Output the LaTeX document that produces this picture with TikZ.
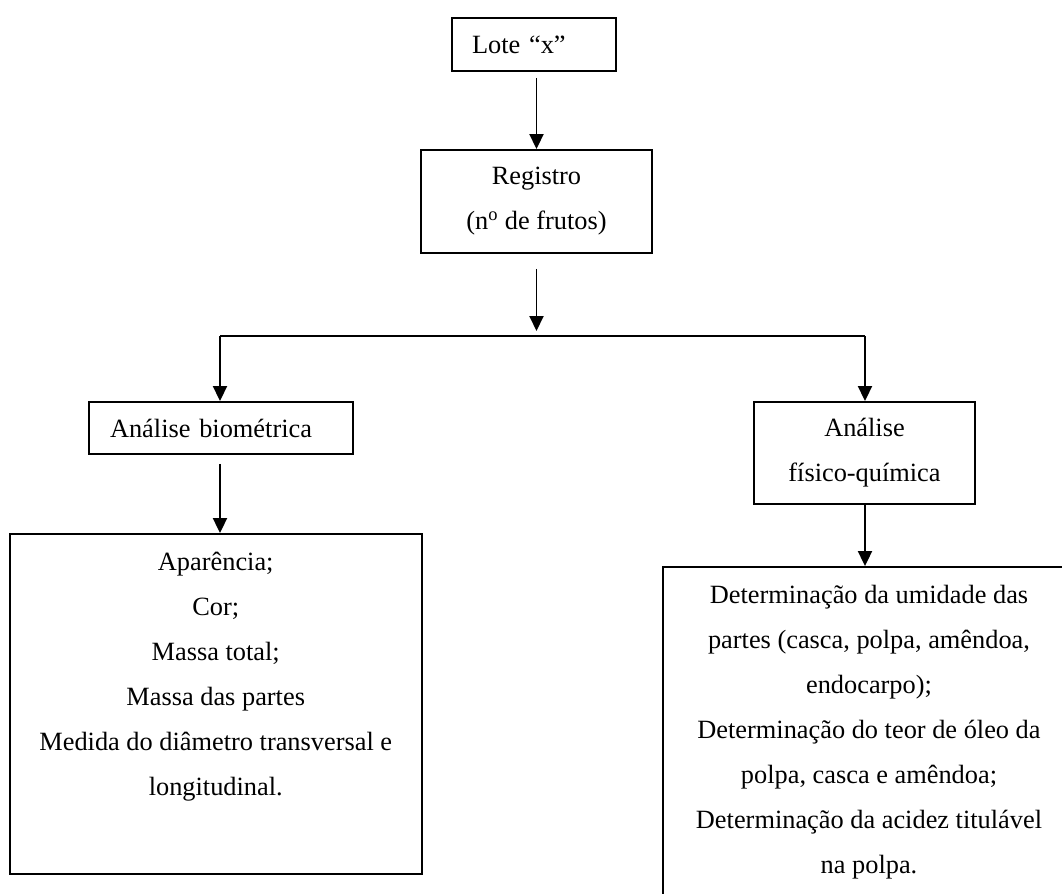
\documentclass[tikz,border=0pt]{standalone}
\usepackage{fontspec}
\setmainfont{Liberation Serif}
\usepackage{tikz}
\usetikzlibrary{positioning, arrows.meta, calc}

\begin{document}
\begin{tikzpicture}[
  x=0.02cm, y=-0.02cm,
  font=\fontsize{15pt}{25.6pt}\selectfont,
  stagebox/.style={draw, line width=1.1pt, align=center, inner sep=0pt},
  listbox/.style={draw, line width=1.1pt, inner sep=0pt},
  listtext/.style={align=center, inner sep=0pt, anchor=north},
  arrow/.style={-{Triangle[length=0.3cm, width=0.28cm]}, line width=1.1pt},
  link/.style={line width=1.1pt},
]
\useasboundingbox (0,0) rectangle (1062,893);
\clip (0,0) rectangle (1062,893);

\node[stagebox, minimum width=3.28cm, minimum height=1.06cm,
      text width=2.48cm, align=left] (lote) at (534,44.5) {Lote “x”};
\node[stagebox, minimum width=4.62cm, minimum height=2.06cm] (registro) at (536.5,201.5)
  {Registro\\(n\textsuperscript{o} de frutos)};
\node[stagebox, minimum width=5.28cm, minimum height=1.04cm,
      text width=4.44cm, align=left] (bio) at (221,428) {Análise biométrica};
\node[stagebox, minimum width=4.42cm, minimum height=2.04cm] (fq) at (864.5,453)
  {Análise\\físico-química};

% result boxes, text set from the top
\node[listbox, minimum width=8.25cm, minimum height=6.8cm] (biolist) at (215.75,704) {};
\node[listtext] (biotext) at (215.75,552)
  {Aparência;\\Cor;\\Massa total;\\Massa das partes\\Medida do diâmetro transversal e\\longitudinal.};
\node[listbox, minimum width=8.24cm, minimum height=6.76cm] (fqlist) at (869,736) {};
\node[listtext] (fqtext) at (869,585)
  {Determinação da umidade das\\partes (casca, polpa, amêndoa,\\endocarpo);\\Determinação do teor de óleo da\\polpa, casca e amêndoa;\\Determinação da acidez titulável\\na polpa.};

\coordinate (split) at (536.5,336);
\coordinate (splitL) at (220,336);
\coordinate (splitR) at (865,336);

\draw[arrow, shorten <=0.12cm] (lote.south -| registro.north) -- (registro.north);
\draw[arrow, shorten <=0.3cm, shorten >=0.1cm] (registro.south) -- (split);
\draw[link] (splitL) -- (splitR);
\draw[arrow] (splitL) -- (splitL |- bio.north);
\draw[arrow] (splitR) -- (splitR |- fq.north);
\draw[arrow, shorten <=0.18cm] (bio.south -| splitL) -- (splitL |- biolist.north);
\draw[arrow] (fq.south -| splitR) -- (splitR |- fqlist.north);
\end{tikzpicture}
\end{document}
